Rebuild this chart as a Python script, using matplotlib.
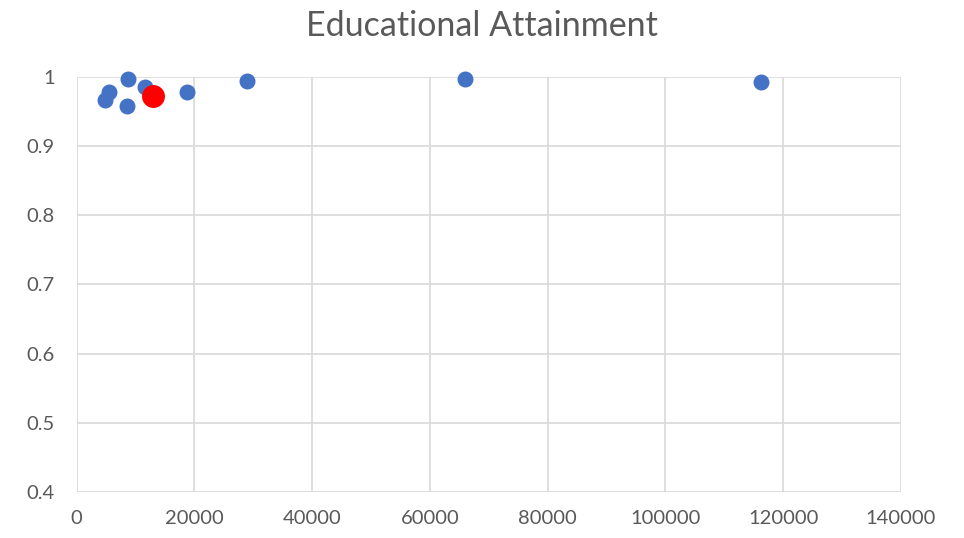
import numpy as np
import matplotlib.pyplot as plt

# income vs share with educational attainment
income = [4720, 5480, 8760, 8590, 11600, 18680, 28860, 65930, 116300]
attainment = [0.966, 0.978, 0.9967, 0.958, 0.9855, 0.978, 0.994, 0.9967, 0.992]

# highlighted point
hl_income = [12900]
hl_attainment = [0.972]

xticks = [0, 20000, 40000, 60000, 80000, 100000, 120000, 140000]
yticks = [0.4, 0.5, 0.6, 0.7, 0.8, 0.9, 1]

plt.rcParams['font.family'] = ['Lato', 'DejaVu Sans']

fig = plt.figure(figsize=(9.64, 5.38), dpi=100)
ax = fig.add_axes([0.0796, 0.0855, 0.8550, 0.7719])

ax.scatter(income, attainment, s=110, color='#4472c4', zorder=3, clip_on=False)
ax.scatter(hl_income, hl_attainment, s=240, color='#ff0000', zorder=4, clip_on=False)

ax.set_xlim(0, 140000)
ax.set_ylim(0.4, 1)
ax.set_xticks(xticks)
ax.set_yticks(yticks)
ax.set_xticklabels([str(t) for t in xticks])
ax.set_yticklabels([str(t) for t in yticks])

ax.grid(True, color='#d9d9d9', linewidth=1.2)
ax.set_axisbelow(True)
for s in ax.spines.values():
    s.set_visible(False)
ax.tick_params(length=0, labelsize=14.5, labelcolor='#595959', pad=13)
ax.tick_params(axis='y', pad=16)

fig.suptitle('Educational Attainment', fontsize=24.5, color='#595959', y=0.982)

fig.savefig('out.png', dpi=100)
